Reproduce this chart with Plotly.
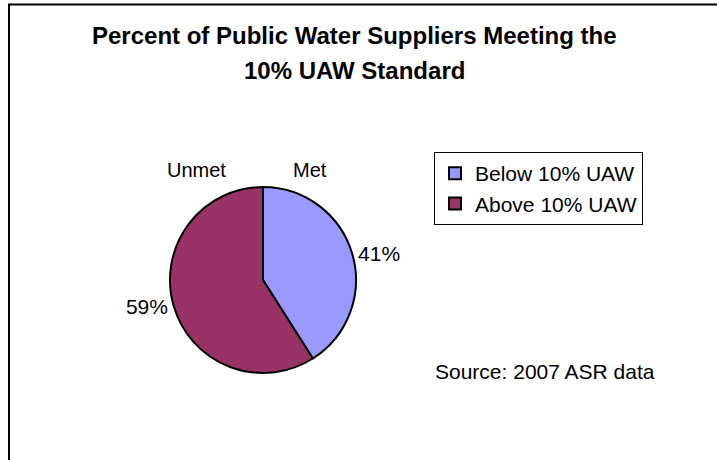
import plotly.graph_objects as go

W, H = 717, 460

# Pie data: share of suppliers below / above the 10% unaccounted-for-water limit
legend_labels = ["Below 10% UAW", "Above 10% UAW"]
shares = [41, 59]
slice_tags = ["Met", "Unmet"]
slice_colors = ["#9999FF", "#993366"]

title_lines = ["Percent of Public Water Suppliers Meeting the", "10% UAW Standard"]
source_text = "Source: 2007 ASR data"

FONT = "Liberation Sans, Arial, sans-serif"


def px_x(x):
    return x / W


def px_y(y):
    return 1 - y / H


fig = go.Figure()

fig.add_trace(go.Pie(
    labels=legend_labels,
    values=shares,
    sort=False,
    direction="clockwise",
    rotation=0,
    marker=dict(colors=slice_colors, line=dict(color="black", width=2)),
    texttemplate="%{percent:.0%}",
    textposition="outside",
    textfont=dict(family=FONT, size=21, color="black"),
    hoverinfo="label+percent",
    domain=dict(x=[px_x(170), px_x(356)], y=[px_y(373), px_y(187)]),
    showlegend=True,
))

annotations = []
# Two-line bold title, with a looser line gap than plotly's default
for line, cy in zip(title_lines, [35, 70]):
    annotations.append(dict(text=f"<b>{line}</b>", x=px_x(354), y=px_y(cy),
                            xref="paper", yref="paper",
                            xanchor="center", yanchor="middle", showarrow=False,
                            font=dict(family=FONT, size=24, color="black")))
annotations.append(dict(text=source_text, x=px_x(545), y=px_y(371), xref="paper", yref="paper",
                        xanchor="center", yanchor="middle", showarrow=False,
                        font=dict(family=FONT, size=21, color="black")))
# Category tags above the pie
for tag, cx in zip(slice_tags, [310, 196]):
    annotations.append(dict(text=tag, x=px_x(cx), y=px_y(170), xref="paper", yref="paper",
                            xanchor="center", yanchor="middle", showarrow=False,
                            font=dict(family=FONT, size=20, color="black")))

fig.update_layout(
    width=W, height=H,
    margin=dict(l=0, r=0, t=0, b=0),
    paper_bgcolor="white",
    plot_bgcolor="white",
    font=dict(family=FONT, size=21, color="black"),
    annotations=annotations,
    legend=dict(
        x=px_x(434), y=px_y(152), xanchor="left", yanchor="top",
        bgcolor="white", bordercolor="black", borderwidth=1,
        font=dict(family=FONT, size=21, color="black"),
    ),
    shapes=[dict(type="rect", xref="paper", yref="paper",
                 x0=px_x(9), x1=1.05, y0=-0.05, y1=px_y(4.5),
                 line=dict(color="black", width=2), fillcolor="rgba(0,0,0,0)",
                 layer="below")],
)

fig.write_html("out.html")
